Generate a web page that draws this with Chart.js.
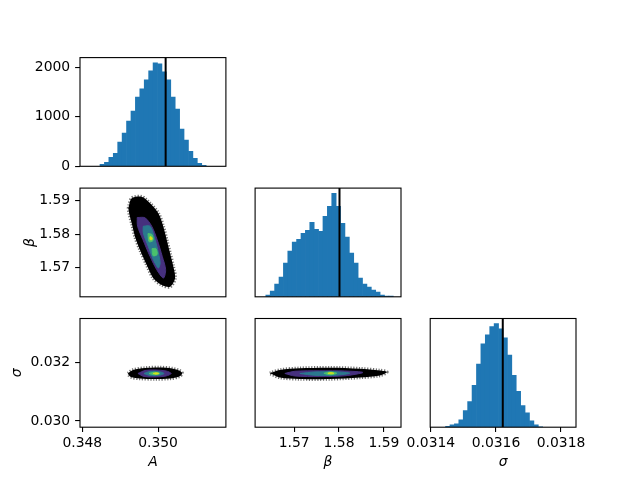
<!DOCTYPE html>
<html>
<head>
<meta charset="utf-8">
<script src="https://cdn.jsdelivr.net/npm/chart.js@4.4.1/dist/chart.umd.min.js"></script>
<style>
  html, body { margin: 0; padding: 0; background: #fff; }
  #fig { position: relative; width: 640px; height: 480px; }
  #fig canvas { position: absolute; left: 0; top: 0; }
</style>
</head>
<body>
<div id="fig"></div>
<script>
// ---- values ----
const aRange = [0.34794, 0.35179];
const betaRange = [1.5613, 1.5938];
const sigmaHistRange = [0.031398, 0.031846];
const sigmaRange = [0.029789, 0.033492];

const aTruth = 0.35020;
const betaTruth = 1.5801;
const sigmaTruth = 0.031621;

// histograms: first bin edge, bin width, counts
const aBinStart = 0.348468, aBinWidth = 0.0001167;
const aCounts = [40, 81, 182, 264, 487, 669, 912, 1115, 1399, 1561, 1744, 1926,
                 2089, 2068, 1906, 1744, 1399, 1156, 750, 527, 304, 162, 61, 20];

const betaBinStart = 1.56369, betaBinWidth = 0.000979;
const betaCounts = [31, 106, 238, 369, 632, 858, 1027, 1083, 1196, 1252, 1402, 1271,
                    1233, 1515, 1703, 1947, 1703, 1383, 1121, 820, 632, 351, 238, 182,
                    125, 88, 31, 13, 13];

const sigmaBinStart = 0.0314452, sigmaBinWidth = 0.00001357;
const sigmaCounts = [24, 57, 82, 179, 399, 619, 1011, 1524, 2013, 2233, 2429, 2502,
                     2380, 2160, 1744, 1255, 864, 522, 350, 155, 57, 8];

// ticks
const countTicks = [0, 1000, 2000];
const countTickLabels = ['0', '1000', '2000'];
const aTicks = [0.348, 0.350];
const aTickLabels = ['0.348', '0.350'];
const betaTicks = [1.57, 1.58, 1.59];
const betaTickLabels = ['1.57', '1.58', '1.59'];
const sigmaTicks = [0.030, 0.032];
const sigmaTickLabels = ['0.030', '0.032'];
const sigmaHistTicks = [0.0314, 0.0316, 0.0318];
const sigmaHistTickLabels = ['0.0314', '0.0316', '0.0318'];

// 2d density contours (level 0 = outermost)
const abContours = [
  { level: 0,
    x: [0.349215, 0.349305, 0.349569, 0.349789, 0.350008, 0.350140, 0.350230, 0.350317, 0.350404, 0.350449,
        0.350317, 0.350098, 0.349876, 0.349701, 0.349524, 0.349392, 0.349305, 0.349247],
    y: [1.58776, 1.59075, 1.59123, 1.58925, 1.58626, 1.58226, 1.57828, 1.57430, 1.57030, 1.56683,
        1.56432, 1.56483, 1.56683, 1.57081, 1.57529, 1.57927, 1.58327, 1.58575] },
  { level: 1,
    x: [0.349450, 0.349655, 0.349833, 0.349975, 0.350110, 0.350200, 0.350141, 0.349965, 0.349788, 0.349600, 0.349460],
    y: [1.58500, 1.58491, 1.58239, 1.57840, 1.57339, 1.56940, 1.56691, 1.56940, 1.57339, 1.57840, 1.58239] },
  { level: 2,
    x: [0.349610, 0.349788, 0.349920, 0.350008, 0.350053, 0.350008, 0.349875, 0.349742, 0.349610],
    y: [1.58239, 1.58239, 1.57840, 1.57441, 1.57141, 1.56991, 1.57240, 1.57639, 1.58041] },
  { level: 3, x: [0.349734, 0.349841, 0.349867, 0.349761], y: [1.58020, 1.57990, 1.57810, 1.57780] },
  { level: 3, x: [0.349841, 0.349947, 0.349973, 0.349867], y: [1.57570, 1.57570, 1.57390, 1.57360] },
  { level: 4, x: [0.349788, 0.349841, 0.349841, 0.349788], y: [1.57930, 1.57900, 1.57840, 1.57840] }
];

const asContours = [
  { level: 0,
    x: [0.349203, 0.349336, 0.349655, 0.350053, 0.350372, 0.350584, 0.350637, 0.350558, 0.350319, 0.349920, 0.349522, 0.349283],
    y: [0.031619, 0.031738, 0.031806, 0.031823, 0.031789, 0.031704, 0.031619, 0.031517, 0.031449, 0.031432, 0.031449, 0.031500] },
  { level: 1,
    x: [0.349469, 0.349655, 0.349920, 0.350212, 0.350345, 0.350212, 0.349920, 0.349628],
    y: [0.031619, 0.031721, 0.031738, 0.031704, 0.031619, 0.031534, 0.031500, 0.031517] },
  { level: 2,
    x: [0.349628, 0.349788, 0.350000, 0.350159, 0.350000, 0.349788],
    y: [0.031619, 0.031687, 0.031687, 0.031619, 0.031551, 0.031551] },
  { level: 3, x: [0.349761, 0.349894, 0.350053, 0.349894], y: [0.031619, 0.031663, 0.031619, 0.031575] },
  { level: 4, x: [0.349867, 0.349947, 0.350027, 0.349947], y: [0.031619, 0.031643, 0.031619, 0.031595] }
];

const bsContours = [
  { level: 0,
    x: [1.56458, 1.56681, 1.57127, 1.57796, 1.58465, 1.58911, 1.59067, 1.58911, 1.58465, 1.57796, 1.57127, 1.56681],
    y: [0.031626, 0.031738, 0.031796, 0.031816, 0.031782, 0.031721, 0.031670, 0.031551, 0.031483, 0.031432, 0.031432, 0.031483] },
  { level: 1,
    x: [1.56793, 1.57016, 1.57573, 1.58130, 1.58532, 1.58130, 1.57573, 1.57016],
    y: [0.031619, 0.031694, 0.031711, 0.031704, 0.031653, 0.031540, 0.031513, 0.031534] },
  { level: 2,
    x: [1.57127, 1.57462, 1.57907, 1.58242, 1.57907, 1.57462],
    y: [0.031619, 0.031670, 0.031677, 0.031629, 0.031558, 0.031558] },
  { level: 3, x: [1.57662, 1.57796, 1.57952, 1.57796], y: [0.031626, 0.031670, 0.031626, 0.031575] },
  { level: 4, x: [1.57751, 1.57818, 1.57885, 1.57818], y: [0.031626, 0.031650, 0.031626, 0.031606] }
];

// ---- styling / layout ----
const W = 640, H = 480;
const cols = [[80, 225.9], [255.1, 401.0], [430.2, 576.0]];
const rows = [[57.6, 166.3], [188.1, 296.8], [318.5, 427.2]];
const FONT = { family: 'DejaVu Sans', size: 13.9, lineHeight: 1.2 };
const TICK_LEN = 4.9, TICK_PAD = 4.9, LABEL_PAD_X = 3;
const X_AXIS_H = 43.7;
const BAR_COLOR = '#1f77b4';
const levelColors = ['#000000', '#46307e', '#2a788e', '#4ac16d', '#d2e21b'];

const fig = document.getElementById('fig');

const frame = {
  id: 'frame',
  afterDraw(chart) {
    const { ctx, chartArea: a } = chart;
    ctx.save();
    ctx.strokeStyle = '#000';
    ctx.lineWidth = 1.1;
    ctx.strokeRect(a.left, a.top, a.right - a.left, a.bottom - a.top);
    ctx.restore();
  }
};

function axis(range, ticks, labels, show, title, size, horizontal) {
  return {
    type: 'linear', min: range[0], max: range[1], offset: false, display: show,
    grid: { display: true, drawOnChartArea: false, drawTicks: true, tickLength: TICK_LEN,
            color: '#000', lineWidth: 1.1, offset: false },
    border: { display: false },
    ticks: { autoSkip: false, maxRotation: 0, minRotation: 0, color: '#000', font: FONT,
             padding: horizontal ? LABEL_PAD_X : TICK_PAD,
             callback: (v, i) => labels[i] },
    afterBuildTicks: s => { s.ticks = ticks.map(v => ({ value: v })); },
    afterFit: s => {
      if (!show) return;
      if (horizontal) s.height = size; else s.width = size;
    },
    title: title
      ? { display: true, text: title, color: '#000', padding: 0, font: Object.assign({}, FONT, { style: 'italic' }) }
      : { display: false }
  };
}

function panel(r, c, type, datasets, xs, ys, yw) {
  const cv = document.createElement('canvas');
  cv.width = W; cv.height = H;
  cv.style.width = W + 'px'; cv.style.height = H + 'px';
  fig.appendChild(cv);
  const [l, rt] = cols[c], [t, b] = rows[r];
  new Chart(cv, {
    type: type,
    data: { datasets: datasets },
    options: {
      responsive: false, animation: false, events: [],
      layout: { padding: {
        left: l - (ys.display ? yw : 0), right: W - rt,
        top: t, bottom: H - b - (xs.display ? X_AXIS_H : 0) } },
      scales: { x: xs, y: ys },
      plugins: { legend: { display: false }, tooltip: { enabled: false } }
    },
    plugins: [frame]
  });
}

function histSets(start, width, counts, truth, ymax) {
  return [
    { type: 'line', order: 0, data: [{ x: truth, y: 0 }, { x: truth, y: ymax }],
      borderColor: '#000', borderWidth: 2, pointRadius: 0 },
    { type: 'bar', order: 1, data: counts.map((n, i) => ({ x: start + (i + 0.5) * width, y: n })),
      backgroundColor: BAR_COLOR, borderWidth: 0, barPercentage: 1, categoryPercentage: 1, grouped: false }
  ];
}

function contourSets(contours) {
  return contours.map(cn => {
    const px = cn.x.concat([cn.x[0]]), py = cn.y.concat([cn.y[0]]);
    const outer = cn.level === 0;
    return {
      type: 'scatter', showLine: true, fill: 'shape', tension: 0.3, order: 10 - cn.level,
      data: px.map((v, i) => ({ x: v, y: py[i] })),
      backgroundColor: levelColors[cn.level],
      borderColor: outer ? 'rgba(0,0,0,0.55)' : levelColors[cn.level],
      borderWidth: outer ? 3.5 : 1,
      borderDash: outer ? [1.2, 1.6] : [],
      pointRadius: 0
    };
  });
}

const aMax = Math.max(...aCounts) * 1.05;
const betaMax = Math.max(...betaCounts) * 1.05;
const sigmaMax = Math.max(...sigmaCounts) * 1.05;

// row 1
panel(0, 0, 'bar', histSets(aBinStart, aBinWidth, aCounts, aTruth, aMax),
  axis(aRange, [], [], false, null, 0, true),
  axis([0, aMax], countTicks, countTickLabels, true, null, 60, false), 60);

// row 2
panel(1, 0, 'scatter', contourSets(abContours),
  axis(aRange, [], [], false, null, 0, true),
  axis(betaRange, betaTicks, betaTickLabels, true, 'β', 58.4, false), 58.4);
panel(1, 1, 'bar', histSets(betaBinStart, betaBinWidth, betaCounts, betaTruth, betaMax),
  axis(betaRange, [], [], false, null, 0, true),
  axis([0, betaMax], [], [], false, null, 0, false), 0);

// row 3
panel(2, 0, 'scatter', contourSets(asContours),
  axis(aRange, aTicks, aTickLabels, true, 'A', X_AXIS_H, true),
  axis(sigmaRange, sigmaTicks, sigmaTickLabels, true, 'σ', 71.4, false), 71.4);
panel(2, 1, 'scatter', contourSets(bsContours),
  axis(betaRange, betaTicks, betaTickLabels, true, 'β', X_AXIS_H, true),
  axis(sigmaRange, [], [], false, null, 0, false), 0);
panel(2, 2, 'bar', histSets(sigmaBinStart, sigmaBinWidth, sigmaCounts, sigmaTruth, sigmaMax),
  axis(sigmaHistRange, sigmaHistTicks, sigmaHistTickLabels, true, 'σ', X_AXIS_H, true),
  axis([0, sigmaMax], [], [], false, null, 0, false), 0);
</script>
</body>
</html>
